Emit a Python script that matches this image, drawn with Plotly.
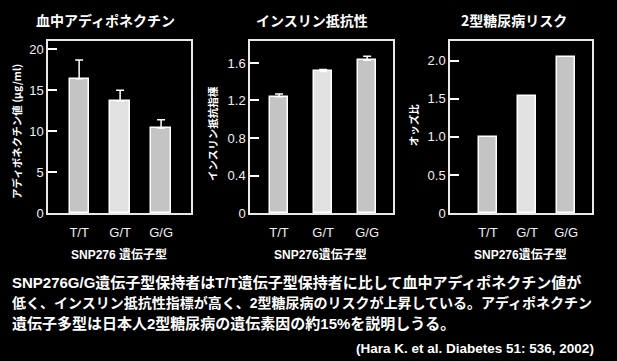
import plotly.graph_objects as go

genotypes = ["T/T", "G/T", "G/G"]
adiponectin = [16.4, 13.7, 10.4]
adiponectin_err = [2.3, 1.3, 1.0]
homa = [1.24, 1.51, 1.63]
homa_err = [0.03, 0.02, 0.04]
odds = [1.0, 1.54, 2.05]

panel_titles = ["血中アディポネクチン", "インスリン抵抗性", "2型糖尿病リスク"]
y_titles = ["アディポネクチン値 (μg/ml)", "インスリン抵抗指標", "オッズ比"]
x_titles = ["SNP276 遺伝子型", "SNP276遺伝子型", "SNP276遺伝子型"]
y1_ticks = [0, 5, 10, 15, 20]
y1_text = ["0", "5", "10", "15", "20"]
y2_ticks = [0, 0.4, 0.8, 1.2, 1.6]
y2_text = ["0", "0.4", "0.8", "1.2", "1.6"]
y3_ticks = [0, 0.5, 1.0, 1.5, 2.0]
y3_text = ["0", "0.5", "1.0", "1.5", "2.0"]
paragraph = [
    "SNP276G/G遺伝子型保持者はT/T遺伝子型保持者に比して血中アディポネクチン値が",
    "低く、インスリン抵抗性指標が高く、2型糖尿病のリスクが上昇している。アディポネクチン",
    "遺伝子多型は日本人2型糖尿病の遺伝素因の約15%を説明しうる。",
]
citation = "(Hara K. et al. Diabetes 51: 536, 2002)"

W, H = 617, 361
bar_colors = ["#c4c4c4", "#e2e2e2", "#c4c4c4"]
JP = "Noto Sans CJK JP, sans-serif"
MIX = "Liberation Sans, Noto Sans CJK JP, sans-serif"
LAT = "Liberation Sans, Arial, sans-serif"

def px(x):
    return x / W

def py(y):
    return 1 - y / H

fig = go.Figure()

err_style = dict(type="data", symmetric=False, color="white", thickness=1.5, width=4)

fig.add_trace(go.Bar(x=[0, 1, 2], y=adiponectin, width=0.47,
                     marker=dict(color=bar_colors, line=dict(color="white", width=1.5)),
                     error_y=dict(array=adiponectin_err, arrayminus=[0, 0, 0], **err_style),
                     xaxis="x", yaxis="y"))
fig.add_trace(go.Bar(x=[0, 1, 2], y=homa, width=0.42,
                     marker=dict(color=bar_colors, line=dict(color="white", width=1.5)),
                     error_y=dict(array=homa_err, arrayminus=[0, 0, 0], **err_style),
                     xaxis="x2", yaxis="y2"))
fig.add_trace(go.Bar(x=[0, 1, 2], y=odds, width=0.48,
                     marker=dict(color=bar_colors, line=dict(color="white", width=1.5)),
                     xaxis="x3", yaxis="y3"))

ydom = [py(218), py(42)]
boxes = [(48, 191, [-0.76, 2.73], [0, 21.0], y1_ticks, y1_text),
         (250, 392.7, [-0.66, 2.58], [0, 1.833], y2_ticks, y2_text),
         (450, 592.3, [-0.97, 2.67], [0, 2.256], y3_ticks, y3_text)]

layout = dict(width=W, height=H, margin=dict(l=0, r=0, t=0, b=0),
              paper_bgcolor="black", plot_bgcolor="black", showlegend=False,
              bargap=0)
for i, (x0, x1, xr, yr, tv, tt) in enumerate(boxes):
    sfx = "" if i == 0 else str(i + 1)
    layout["xaxis" + sfx] = dict(
        domain=[px(x0), px(x1)], range=xr, anchor="y" + sfx,
        tickvals=[0, 1, 2], ticktext=genotypes, ticks="",
        showline=True, linecolor="#e8e8e8", linewidth=1.5, mirror=True,
        showgrid=False, zeroline=False, ticklabelstandoff=6,
        tickfont=dict(family=LAT, size=13, color="#f0f0f0"), fixedrange=True)
    layout["yaxis" + sfx] = dict(
        domain=ydom, range=yr, anchor="x" + sfx,
        tickvals=tv, ticktext=tt, ticks="inside", ticklen=9, tickwidth=1.5,
        tickcolor="white",
        showline=True, linecolor="#e8e8e8", linewidth=1.5, mirror=True,
        showgrid=False, zeroline=False,
        tickfont=dict(family=LAT, size=13, color="#f0f0f0"), fixedrange=True)

fig.update_layout(**layout)

ann = []
title_cx = [105, 312, 514]
xtitle_cx = [119, 320, 520]
ytitle = [(16, 135), (213, 137), (413, 128)]
for i in range(3):
    ann.append(dict(x=px(title_cx[i]), y=py(20), xref="paper", yref="paper",
                    text="<b>" + panel_titles[i] + "</b>", showarrow=False,
                    xanchor="center", yanchor="middle",
                    font=dict(family=JP, size=14, color="white")))
    ann.append(dict(x=px(xtitle_cx[i]), y=py(260), xref="paper", yref="paper",
                    text="<b>" + x_titles[i] + "</b>", showarrow=False,
                    xanchor="center", yanchor="middle",
                    font=dict(family=MIX, size=12, color="white")))
    ann.append(dict(x=px(ytitle[i][0]), y=py(ytitle[i][1]), xref="paper", yref="paper",
                    text="<b>" + y_titles[i] + "</b>", showarrow=False, textangle=-90,
                    xanchor="center", yanchor="middle",
                    font=dict(family=JP, size=10.5, color="white")))

line_y = [289, 310, 331]
line_size = [15, 14, 15]
for t, yy, fs in zip(paragraph, line_y, line_size):
    ann.append(dict(x=px(10), y=py(yy), xref="paper", yref="paper",
                    text="<b>" + t + "</b>", showarrow=False,
                    xanchor="left", yanchor="middle",
                    font=dict(family=MIX, size=fs, color="white")))
ann.append(dict(x=px(596), y=py(356), xref="paper", yref="paper",
                text="<b>" + citation + "</b>", showarrow=False,
                xanchor="right", yanchor="middle",
                font=dict(family=LAT, size=13.5, color="white")))
fig.update_layout(annotations=ann)

fig.write_html("out.html")
